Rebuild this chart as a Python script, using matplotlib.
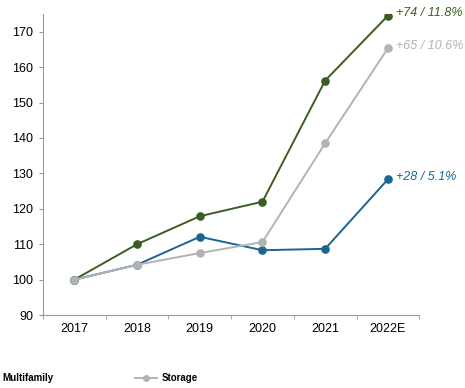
import matplotlib.pyplot as plt
import numpy as np
from matplotlib.lines import Line2D

plt.rcParams['font.family'] = ['Liberation Sans', 'DejaVu Sans']

years = ['2017', '2018', '2019', '2020', '2021', '2022E']
multifamily = [100, 110, 117.9, 122, 156.2, 174.5]
storage = [100, 104.2, 107.5, 110.6, 138.5, 165.3]
third = [100, 104.2, 112.1, 108.3, 108.7, 128.3]
labels = ['+74 / 11.8%', '+65 / 10.6%', '+28 / 5.1%']

green = '#3c5e22'
grey = '#b3b3b3'
blue = '#1a6690'

fig = plt.figure(figsize=[4.65, 3.88], dpi=100)
ax = fig.add_axes([0.0925, 0.188, 0.809, 0.776])

x = np.arange(len(years))
ax.plot(x, multifamily, color=green, lw=1.4, marker='o', ms=5.2, zorder=3)
ax.plot(x, third, color=blue, lw=1.4, marker='o', ms=5.2, zorder=4)
ax.plot(x, storage, color=grey, lw=1.4, marker='o', ms=5.2, zorder=5)

for vals, lab, c in zip([multifamily, storage, third], labels, [green, grey, blue]):
    ax.annotate(lab, (x[-1], vals[-1]), xytext=(6, 2), textcoords='offset points',
                color=c, fontsize=9, style='italic', va='center', ha='left')

ax.set_xlim(-0.5, 5.5)
ax.set_ylim(90, 175)
ax.set_yticks(np.arange(90, 171, 10))
ax.set_xticks(x)
ax.set_xticklabels(years)
ax.set_xticks(np.arange(-0.5, 5.6, 1), minor=True)
ax.tick_params(axis='x', which='major', length=0, labelsize=9, pad=6)
ax.tick_params(axis='x', which='minor', length=3, color='#999999', direction='out')
ax.tick_params(axis='y', length=3, color='#999999', labelsize=9, pad=4)
for s in ['top', 'right']:
    ax.spines[s].set_visible(False)
for s in ['left', 'bottom']:
    ax.spines[s].set_color('#999999')
    ax.spines[s].set_linewidth(0.8)

# bottom legend (partly cropped in original)
fig.text(0.005, 0.026, 'Multifamily', fontsize=7, fontweight='bold', va='center')
fig.add_artist(Line2D([0.29, 0.338], [0.026, 0.026], color=grey, lw=1.4,
                      transform=fig.transFigure))
fig.add_artist(Line2D([0.314], [0.026], color=grey, marker='o', ms=4,
                      transform=fig.transFigure))
fig.text(0.347, 0.026, 'Storage', fontsize=7, fontweight='bold', va='center')

plt.savefig('out.png')
